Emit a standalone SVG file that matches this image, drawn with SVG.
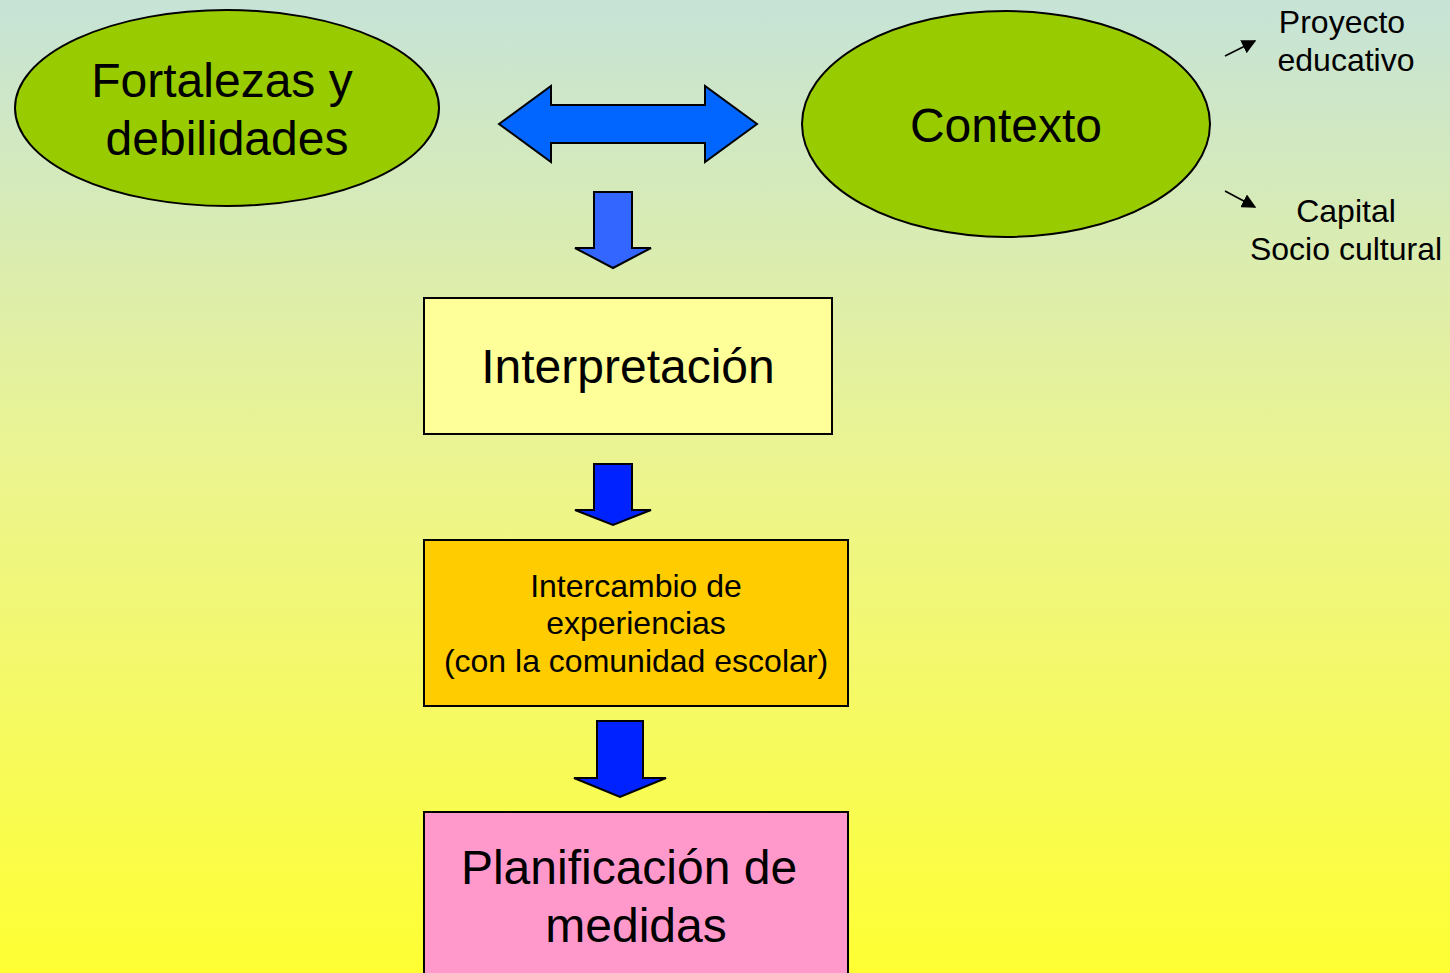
<svg xmlns="http://www.w3.org/2000/svg" width="1450" height="973" viewBox="0 0 1450 973">
<defs>
<linearGradient id="bg" x1="0" y1="0" x2="0" y2="1">
<stop offset="0" stop-color="#C6E3D7"/>
<stop offset="0.5" stop-color="#EDF58C"/>
<stop offset="1" stop-color="#FFFF33"/>
</linearGradient>
<marker id="ah" viewBox="0 0 10 10" refX="9" refY="5" markerWidth="9" markerHeight="9" orient="auto" markerUnits="strokeWidth">
<path d="M0,0 L10,5 L0,10 z" fill="#000"/>
</marker>
<style>
.t{font-family:"Liberation Sans",Arial,sans-serif;fill:#000;text-anchor:middle}
.big{font-size:48px}
.mid{font-size:32px}
.sh{stroke:#000;stroke-width:2}
</style>
</defs>
<rect width="1450" height="973" fill="url(#bg)"/>
<g id="fortalezas">
<ellipse cx="227" cy="108" rx="212" ry="98" fill="#99CC00" class="sh"/>
<text class="t big" x="222" y="97">Fortalezas y</text>
<text class="t big" x="227" y="155">debilidades</text>
</g>
<g id="contexto">
<ellipse cx="1006" cy="124" rx="204" ry="113" fill="#99CC00" class="sh"/>
<text class="t big" x="1006" y="142">Contexto</text>
</g>
<g id="proyecto">
<text class="t mid" x="1342" y="33">Proyecto</text>
<text class="t mid" x="1346" y="71">educativo</text>
</g>
<g id="capital">
<text class="t mid" x="1346" y="222">Capital</text>
<text class="t mid" x="1346" y="260">Socio cultural</text>
</g>
<g id="interpretacion">
<rect x="424" y="298" width="408" height="136" fill="#FFFF99" class="sh"/>
<text class="t big" x="628" y="383">Interpretación</text>
</g>
<g id="intercambio">
<rect x="424" y="540" width="424" height="166" fill="#FFCC00" class="sh"/>
<text class="t mid" x="636" y="597">Intercambio de</text>
<text class="t mid" x="636" y="634">experiencias</text>
<text class="t mid" x="636" y="672">(con la comunidad escolar)</text>
</g>
<g id="planificacion">
<rect x="424" y="812" width="424" height="170" fill="#FF99CC" class="sh"/>
<text class="t big" x="629" y="884">Planificación de</text>
<text class="t big" x="636" y="942">medidas</text>
</g>
<g id="connectors">
<path d="M499,124 L551,86 L551,105 L705,105 L705,86 L757,124 L705,162 L705,143 L551,143 L551,162 Z" fill="#0066FF" class="sh"/>
<path d="M594,192 L632,192 L632,248 L651,248 L613,268 L575,248 L594,248 Z" fill="#3366FF" class="sh"/>
<path d="M594,464 L632,464 L632,510 L651,510 L613,525 L575,510 L594,510 Z" fill="#0022FF" class="sh"/>
<path d="M597,721 L643,721 L643,778 L666,778 L620,797 L574,778 L597,778 Z" fill="#0022FF" class="sh"/>
<line x1="1225" y1="56" x2="1255" y2="41" stroke="#000" stroke-width="1.6" marker-end="url(#ah)"/>
<line x1="1225" y1="191" x2="1255" y2="207" stroke="#000" stroke-width="1.6" marker-end="url(#ah)"/>
</g>
</svg>
